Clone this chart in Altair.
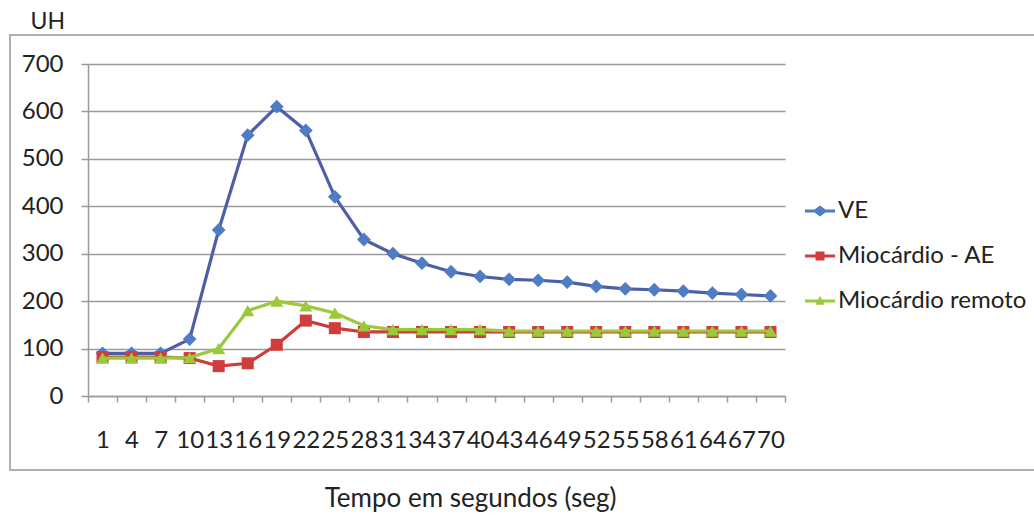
import altair as alt
import pandas as pd

# ---- data ----
tempo = [1, 4, 7, 10, 13, 16, 19, 22, 25, 28, 31, 34, 37, 40, 43, 46, 49, 52, 55, 58, 61, 64, 67, 70]
ve = [90, 90, 90, 120, 350, 550, 610, 560, 420, 330, 300, 280, 262, 252, 246, 244, 240, 231, 226, 224, 221, 217, 214, 211]
mio_ae = [82, 82, 82, 80, 63, 69, 108, 159, 143, 135, 135, 135, 135, 135, 135, 135, 135, 135, 135, 135, 135, 135, 135, 135]
mio_remoto = [80, 80, 80, 81, 100, 180, 200, 190, 175, 148, 140, 140, 140, 140, 137, 137, 137, 137, 137, 137, 137, 137, 137, 137]

series_names = ["VE", "Miocárdio - AE", "Miocárdio remoto"]
series_values = [ve, mio_ae, mio_remoto]

line_colors = ["#4E5FA6", "#D03A3A", "#9BC93A"]
marker_colors = ["#4F7CC2", "#D03D3D", "#9BC93A"]
marker_shapes = ["diamond", "square", "triangle-up"]
marker_sizes = [190, 145, 170]

legend_paths = [
    "M-1,-0.1H-0.36L0,-0.36L0.36,-0.1H1V0.1H0.36L0,0.36L-0.36,0.1H-1Z",
    "M-1,-0.1H-0.3V-0.3H0.3V-0.1H1V0.1H0.3V0.3H-0.3V0.1H-1Z",
    "M-1,-0.1H-0.125L0,-0.35L0.125,-0.1H1V0.1H0.225L0.3,0.25H-0.3L-0.225,0.1H-1Z",
]

rows = []
for name, vals in zip(series_names, series_values):
    for t, v in zip(tempo, vals):
        rows.append({"tempo": t, "valor": v, "serie": name})
df = pd.DataFrame(rows)

FONT = "Lato"
GRAY = "#9A9A9A"

x_enc = alt.X(
    "tempo:O",
    scale=alt.Scale(type="band", paddingInner=0, paddingOuter=0),
    bandPosition=0.5,
    axis=alt.Axis(
        title="Tempo em segundos (seg)",
        labelAngle=0,
        tickBand="extent",
        tickSize=6,
        tickColor=GRAY,
        tickWidth=1.5,
        domainColor=GRAY,
        domainWidth=1.5,
        labelFont=FONT,
        labelFontSize=24,
        labelColor="#222222",
        labelPadding=26,
        labelOverlap=False,
        labelBaseline="top",
        grid=False,
        titleFont=FONT,
        titleFontSize=26,
        titleFontWeight="normal",
        titleColor="#222222",
        titleX=382,
        titleY=110,
        titleAlign="center",
        titleBaseline="alphabetic",
    ),
)
y_enc = alt.Y(
    "valor:Q",
    scale=alt.Scale(domain=[0, 700], nice=False),
    axis=alt.Axis(
        title="UH",
        values=[0, 100, 200, 300, 400, 500, 600, 700],
        titleAngle=0,
        titleX=-58,
        titleY=-36,
        titleAlign="left",
        titleBaseline="alphabetic",
        titleFont=FONT,
        titleFontSize=23,
        titleFontWeight="normal",
        titleColor="#222222",
        labelFont=FONT,
        labelFontSize=24,
        labelColor="#222222",
        labelPadding=18,
        tickSize=7,
        tickColor=GRAY,
        tickWidth=1.5,
        domainColor=GRAY,
        domainWidth=1.5,
        gridColor=GRAY,
        gridWidth=1.5,
    ),
)

base = alt.Chart(df)

# outer chart-area frame (decorative, like the spreadsheet chart border)
frame = base.mark_rect(fill=None, stroke="#B0B0B0", strokeWidth=2).encode(
    x=alt.value(-78), x2=alt.value(960), y=alt.value(-29), y2=alt.value(406)
).transform_filter("datum.serie == 'VE' && datum.tempo == 1")

layers = [frame]
for i, name in enumerate(series_names):
    sub = base.transform_filter(alt.datum.serie == name)
    layers.append(
        sub.mark_line(color=line_colors[i], strokeWidth=3.2).encode(x=x_enc, y=y_enc)
    )
    layers.append(
        sub.mark_point(
            filled=True, opacity=1, shape=marker_shapes[i], size=marker_sizes[i],
            color=marker_colors[i],
        ).encode(x=x_enc, y=y_enc)
    )

leg = alt.Legend(
    orient="none", legendX=717, legendY=132, title=None,
    labelFont=FONT, labelFontSize=24, labelColor="#222222",
    symbolSize=900, symbolStrokeWidth=0, rowPadding=18, labelOffset=3,
    labelLimit=400,
)
legend_layer = base.transform_filter("datum.valor < -1000").mark_point(
    filled=True, opacity=1
).encode(
    x=x_enc,
    y=y_enc,
    color=alt.Color("serie:N", scale=alt.Scale(domain=series_names, range=marker_colors), legend=leg),
    shape=alt.Shape("serie:N", scale=alt.Scale(domain=series_names, range=legend_paths), legend=leg),
)
layers.append(legend_layer)

chart = alt.layer(*layers).properties(
    width=697,
    height=332,
    autosize=alt.AutoSizeParams(type="none"),
    padding={"left": 88, "top": 64, "right": 249, "bottom": 120},
    background="white",
).configure_view(stroke=None)

chart.save("out.html", embed_options={"renderer": "svg", "actions": False})
